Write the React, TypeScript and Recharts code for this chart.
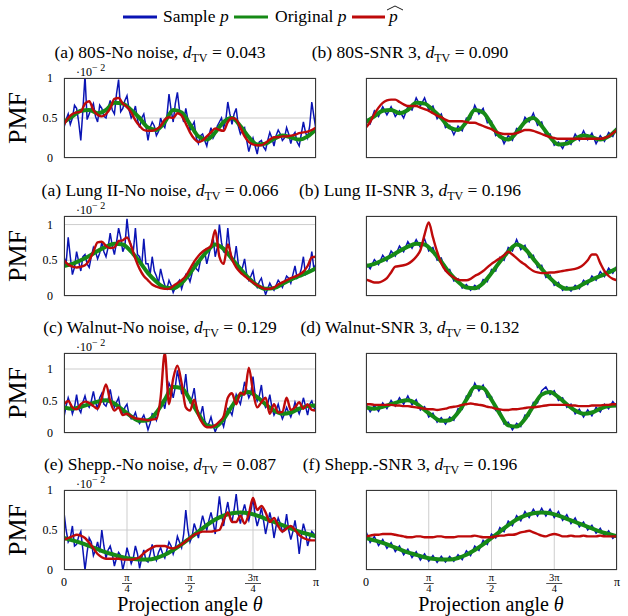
import React from "react";
import { LineChart, Line, XAxis, YAxis, CartesianGrid } from "recharts";

const SERIF = "'Liberation Serif', 'Times New Roman', serif";
const C_BLUE = "#0a14b4";
const C_GREEN = "#168a16";
const C_RED = "#be0a0a";

const STEP_SAMPLE_NN = 1;
const STEP_SAMPLE_SNR = 2;
const STEP_PHAT = 2;
const STEP_ORIG = 4;

// ---------- Original p (shared by both columns of a row) ----------
const ORIG_80S = [0.45,0.52,0.59,0.60,0.56,0.60,0.69,0.68,0.60,0.50,0.38,0.35,0.45,0.60,0.57,0.42,0.27,0.23,0.32,0.45,0.50,0.40,0.26,0.17,0.18,0.24,0.28,0.26,0.23,0.27,0.36];
const ORIG_LUNG = [0.42,0.45,0.50,0.56,0.63,0.69,0.73,0.72,0.62,0.48,0.32,0.20,0.12,0.11,0.18,0.32,0.48,0.62,0.72,0.66,0.52,0.38,0.25,0.15,0.10,0.11,0.17,0.23,0.28,0.33,0.39];
const ORIG_WALNUT = [0.40,0.38,0.41,0.45,0.49,0.51,0.46,0.36,0.26,0.19,0.20,0.32,0.52,0.72,0.70,0.52,0.30,0.12,0.10,0.22,0.42,0.60,0.64,0.56,0.45,0.35,0.30,0.32,0.38,0.42,0.43];
const ORIG_SHEPP = [0.40,0.37,0.34,0.30,0.26,0.22,0.19,0.16,0.14,0.13,0.13,0.15,0.19,0.25,0.32,0.40,0.48,0.56,0.63,0.68,0.71,0.72,0.71,0.68,0.64,0.60,0.56,0.52,0.48,0.45,0.42];

// ---------- Sample p, no noise (121 samples) ----------
const SAMPLE_80S_NN = [
  0.38,0.48,0.55,0.42,0.50,0.66,0.62,0.45,0.22,0.60,
  1.03,0.48,0.55,0.62,0.68,0.52,0.45,0.66,0.62,0.52,
  0.50,0.62,0.72,0.60,0.55,0.80,0.98,0.58,0.62,0.72,
  0.78,0.60,0.50,0.55,0.65,0.48,0.38,0.50,0.55,0.40,
  0.22,0.38,0.45,0.40,0.28,0.33,0.50,0.42,0.38,0.52,
  0.80,0.60,0.45,0.68,0.82,0.60,0.55,0.45,0.62,0.48,
  0.35,0.40,0.45,0.25,0.18,0.28,0.30,0.22,0.15,0.28,
  0.38,0.25,0.30,0.40,0.45,0.50,0.38,0.46,0.70,0.55,
  0.42,0.55,0.62,0.40,0.30,0.35,0.38,0.22,0.08,0.18,
  0.25,0.15,0.05,0.20,0.22,0.14,0.10,0.22,0.32,0.25,
  0.15,0.28,0.35,0.30,0.22,0.25,0.38,0.30,0.18,0.28,
  0.32,0.20,0.15,0.30,0.45,0.32,0.25,0.40,0.70,0.52,
  0.35];
const SAMPLE_LUNG_NN = [
  0.55,0.45,0.82,0.55,0.30,0.40,0.62,0.48,0.35,0.55,
  0.58,0.45,0.40,0.55,0.68,0.62,0.52,0.60,0.75,0.62,
  0.55,0.68,0.88,0.70,0.58,0.75,0.95,0.82,0.62,0.70,
  1.08,0.80,0.70,0.62,0.95,0.58,0.55,0.42,0.80,0.45,
  0.45,0.30,0.55,0.35,0.28,0.18,0.38,0.25,0.15,0.10,
  0.22,0.15,0.05,0.12,0.18,0.22,0.10,0.20,0.30,0.28,
  0.20,0.32,0.45,0.38,0.35,0.50,0.55,0.62,0.45,0.58,
  0.70,0.82,0.55,0.68,1.00,0.75,0.62,0.60,0.95,0.65,
  0.50,0.48,0.70,0.45,0.35,0.40,0.52,0.30,0.22,0.28,
  0.35,0.18,0.12,0.20,0.25,0.12,0.02,0.10,0.18,0.12,
  0.08,0.15,0.22,0.18,0.12,0.20,0.28,0.25,0.18,0.30,
  0.42,0.25,0.28,0.38,0.55,0.30,0.32,0.40,0.62,0.38,
  0.45];
const SAMPLE_WALNUT_NN = [
  0.25,0.42,0.55,0.45,0.30,0.40,0.60,0.38,0.32,0.48,
  0.58,0.45,0.40,0.50,0.65,0.48,0.38,0.55,0.62,0.45,
  0.42,0.52,0.68,0.50,0.40,0.48,0.55,0.35,0.30,0.40,
  0.45,0.28,0.22,0.25,0.32,0.20,0.15,0.22,0.28,0.18,
  0.05,0.15,0.30,0.28,0.20,0.35,0.45,0.50,0.38,0.60,
  0.78,0.70,0.55,0.72,0.98,0.80,0.62,0.65,0.92,0.58,
  0.48,0.55,0.70,0.42,0.30,0.28,0.42,0.20,0.12,0.15,
  0.25,0.12,0.02,0.10,0.15,0.20,0.10,0.25,0.38,0.35,
  0.28,0.45,0.60,0.52,0.45,0.62,0.80,0.68,0.55,0.62,
  0.88,0.60,0.50,0.58,0.75,0.48,0.40,0.45,0.60,0.40,
  0.28,0.35,0.45,0.32,0.22,0.30,0.40,0.32,0.25,0.35,
  0.48,0.38,0.30,0.40,0.55,0.42,0.28,0.45,0.50,0.40,
  0.35];
const SAMPLE_SHEPP_NN = [
  0.72,0.50,0.35,0.40,0.55,0.30,0.32,0.42,0.48,0.25,
  0.00,0.22,0.40,0.35,0.18,0.25,0.35,0.22,0.50,0.30,
  0.15,0.25,0.30,0.20,0.05,0.15,0.22,0.18,0.00,0.12,
  0.28,0.18,0.08,0.15,0.30,0.20,0.02,0.15,0.25,0.12,
  0.10,0.20,0.32,0.18,0.12,0.22,0.28,0.20,0.15,0.25,
  0.35,0.30,0.20,0.28,0.42,0.35,0.28,0.45,0.75,0.50,
  0.35,0.42,0.58,0.50,0.40,0.55,0.68,0.58,0.50,0.62,
  0.72,0.60,0.45,0.68,0.92,0.70,0.55,0.72,0.85,0.68,
  0.60,0.75,0.95,0.70,0.58,0.72,0.82,0.70,0.62,0.74,
  0.90,0.68,0.55,0.65,0.78,0.62,0.45,0.58,0.72,0.60,
  0.40,0.55,0.65,0.58,0.48,0.52,0.70,0.50,0.38,0.48,
  0.62,0.45,0.20,0.42,0.58,0.48,0.30,0.40,0.48,0.45,
  0.38];

// ---------- Sample p, SNR 3 (61 samples) ----------
const SAMPLE_80S_SNR = [0.50,0.43,0.59,0.52,0.64,0.54,0.64,0.52,0.59,0.50,0.64,0.60,0.75,0.65,0.75,0.60,0.65,0.49,0.55,0.38,0.41,0.29,0.40,0.34,0.50,0.49,0.66,0.55,0.62,0.44,0.46,0.28,0.31,0.18,0.28,0.22,0.37,0.35,0.51,0.45,0.56,0.41,0.45,0.28,0.30,0.16,0.20,0.12,0.23,0.17,0.30,0.22,0.34,0.23,0.31,0.18,0.28,0.21,0.32,0.27,0.39];
const SAMPLE_LUNG_SNR = [0.46,0.38,0.51,0.44,0.57,0.49,0.63,0.56,0.70,0.62,0.76,0.67,0.79,0.68,0.80,0.63,0.68,0.50,0.53,0.35,0.37,0.21,0.24,0.11,0.16,0.08,0.15,0.10,0.23,0.20,0.37,0.35,0.54,0.50,0.68,0.63,0.79,0.65,0.71,0.54,0.57,0.40,0.43,0.26,0.29,0.15,0.19,0.08,0.13,0.07,0.15,0.10,0.22,0.16,0.28,0.22,0.34,0.27,0.39,0.32,0.42];
const SAMPLE_WALNUT_SNR = [0.45,0.33,0.43,0.34,0.47,0.38,0.51,0.42,0.55,0.45,0.58,0.44,0.52,0.36,0.41,0.25,0.31,0.17,0.24,0.14,0.25,0.20,0.38,0.37,0.58,0.58,0.78,0.66,0.75,0.56,0.57,0.35,0.35,0.14,0.17,0.05,0.15,0.10,0.28,0.27,0.48,0.47,0.66,0.72,0.60,0.66,0.51,0.55,0.40,0.45,0.30,0.37,0.25,0.36,0.27,0.40,0.33,0.45,0.38,0.49,0.41];
const SAMPLE_SHEPP_SNR = [0.48,0.345,0.42,0.305,0.38,0.27,0.34,0.23,0.30,0.19,0.26,0.155,0.23,0.125,0.20,0.11,0.18,0.095,0.17,0.10,0.17,0.11,0.19,0.13,0.24,0.18,0.30,0.245,0.37,0.32,0.45,0.40,0.53,0.48,0.61,0.555,0.68,0.615,0.73,0.655,0.76,0.675,0.77,0.675,0.76,0.655,0.73,0.62,0.69,0.58,0.65,0.54,0.60,0.50,0.56,0.46,0.52,0.425,0.49,0.395,0.44];

// ---------- p-hat (61 samples) ----------
const PHAT_80S_NN = [0.42,0.50,0.55,0.57,0.58,0.68,0.71,0.60,0.54,0.52,0.55,0.62,0.74,0.75,0.68,0.64,0.57,0.47,0.40,0.35,0.34,0.34,0.36,0.40,0.48,0.51,0.50,0.56,0.53,0.43,0.32,0.24,0.20,0.22,0.27,0.32,0.37,0.35,0.34,0.45,0.50,0.48,0.38,0.27,0.20,0.17,0.16,0.16,0.19,0.23,0.26,0.26,0.27,0.27,0.28,0.29,0.31,0.32,0.33,0.35,0.38];
const PHAT_80S_SNR = [0.38,0.45,0.55,0.63,0.69,0.72,0.73,0.73,0.70,0.67,0.65,0.65,0.65,0.63,0.61,0.59,0.56,0.53,0.51,0.48,0.46,0.46,0.46,0.46,0.45,0.44,0.44,0.42,0.40,0.38,0.36,0.33,0.31,0.30,0.30,0.30,0.31,0.33,0.35,0.35,0.34,0.32,0.30,0.28,0.26,0.25,0.24,0.24,0.24,0.24,0.24,0.24,0.24,0.24,0.24,0.24,0.24,0.25,0.27,0.31,0.35];
const PHAT_LUNG_NN = [0.50,0.44,0.41,0.40,0.41,0.43,0.50,0.62,0.75,0.76,0.70,0.67,0.68,0.77,0.78,0.82,0.70,0.52,0.38,0.28,0.22,0.16,0.13,0.11,0.10,0.10,0.14,0.18,0.22,0.28,0.38,0.48,0.56,0.62,0.66,0.70,0.92,0.55,0.45,0.72,0.52,0.40,0.33,0.28,0.23,0.19,0.15,0.12,0.10,0.10,0.12,0.16,0.19,0.22,0.25,0.27,0.30,0.34,0.42,0.54,0.55];
const PHAT_LUNG_SNR = [0.23,0.21,0.19,0.19,0.21,0.25,0.33,0.41,0.42,0.43,0.45,0.49,0.55,0.64,0.86,1.03,0.82,0.62,0.46,0.36,0.30,0.26,0.23,0.22,0.22,0.24,0.28,0.31,0.35,0.40,0.45,0.49,0.53,0.57,0.62,0.58,0.53,0.48,0.44,0.39,0.35,0.33,0.32,0.32,0.33,0.33,0.34,0.35,0.36,0.37,0.38,0.40,0.44,0.50,0.58,0.58,0.46,0.35,0.28,0.24,0.22];
const PHAT_WALNUT_NN = [0.45,0.50,0.40,0.37,0.45,0.49,0.47,0.42,0.38,0.55,0.76,0.50,0.35,0.40,0.28,0.30,0.26,0.23,0.22,0.21,0.20,0.21,0.22,0.55,1.25,0.45,0.85,1.05,0.78,0.40,0.35,0.52,0.28,0.15,0.09,0.09,0.12,0.18,0.26,0.55,0.62,0.45,0.63,0.60,1.02,0.65,0.40,0.48,0.55,0.30,0.45,0.32,0.33,0.55,0.36,0.40,0.48,0.38,0.45,0.36,0.35];
const PHAT_WALNUT_SNR = [0.45,0.45,0.44,0.44,0.44,0.44,0.44,0.43,0.43,0.42,0.42,0.41,0.40,0.39,0.38,0.37,0.37,0.36,0.37,0.38,0.40,0.41,0.42,0.44,0.45,0.46,0.45,0.44,0.43,0.41,0.40,0.38,0.37,0.36,0.36,0.37,0.37,0.38,0.39,0.40,0.40,0.41,0.42,0.43,0.44,0.44,0.44,0.44,0.44,0.43,0.43,0.42,0.42,0.42,0.43,0.43,0.43,0.44,0.44,0.45,0.45];
const PHAT_SHEPP_NN = [0.38,0.40,0.42,0.44,0.43,0.40,0.34,0.27,0.20,0.16,0.14,0.14,0.14,0.14,0.13,0.13,0.13,0.14,0.16,0.21,0.25,0.28,0.30,0.30,0.30,0.28,0.27,0.29,0.32,0.36,0.40,0.44,0.46,0.48,0.48,0.48,0.49,0.50,0.62,0.72,0.60,0.60,0.68,0.58,0.70,0.90,0.75,0.80,0.72,0.60,0.65,0.55,0.48,0.52,0.55,0.50,0.44,0.40,0.38,0.37,0.37];
const PHAT_SHEPP_SNR = [0.42,0.43,0.44,0.44,0.45,0.45,0.45,0.44,0.43,0.42,0.41,0.41,0.42,0.42,0.41,0.41,0.41,0.42,0.42,0.41,0.41,0.41,0.42,0.42,0.42,0.42,0.43,0.42,0.41,0.41,0.41,0.42,0.43,0.43,0.44,0.44,0.45,0.47,0.48,0.49,0.47,0.45,0.43,0.42,0.44,0.45,0.44,0.42,0.42,0.43,0.42,0.42,0.43,0.42,0.42,0.42,0.43,0.42,0.42,0.42,0.42];

// ---------- labels ----------
const TITLES_LEFT = ["(a) 80S-No noise, ", "(a) Lung II-No noise, ", "(c) Walnut-No noise, ", "(e) Shepp.-No noise, "];
const TITLES_RIGHT = ["(b) 80S-SNR 3, ", "(b) Lung II-SNR 3, ", "(d) Walnut-SNR 3, ", "(f) Shepp.-SNR 3, "];
const DTV_LEFT = ["0.043", "0.066", "0.129", "0.087"];
const DTV_RIGHT = ["0.090", "0.196", "0.132", "0.196"];
const Y_TICKS = [0, 0.5, 1];
const Y_TICK_LABELS = ["0", "0.5", "1"];
const Y_MAX = [1.0, 1.12, 1.25, 1.0];
const GRID_TICKS = [50, 100];
const ANGLE_TICKS = [0, 30, 60, 90, 120];
const ANGLE_NUM = ["0", "\u03c0", "\u03c0", "3\u03c0", "\u03c0"];
const ANGLE_DEN = ["", "4", "2", "4", ""];

const ORIGINAL = [ORIG_80S, ORIG_LUNG, ORIG_WALNUT, ORIG_SHEPP];
const SAMPLE_LEFT = [SAMPLE_80S_NN, SAMPLE_LUNG_NN, SAMPLE_WALNUT_NN, SAMPLE_SHEPP_NN];
const SAMPLE_RIGHT = [SAMPLE_80S_SNR, SAMPLE_LUNG_SNR, SAMPLE_WALNUT_SNR, SAMPLE_SHEPP_SNR];
const PHAT_LEFT = [PHAT_80S_NN, PHAT_LUNG_NN, PHAT_WALNUT_NN, PHAT_SHEPP_NN];
const PHAT_RIGHT = [PHAT_80S_SNR, PHAT_LUNG_SNR, PHAT_WALNUT_SNR, PHAT_SHEPP_SNR];

// ---------- layout ----------
const ROW_TOPS = [78, 216, 353, 490];
const PLOT_H = 80;
const COL_LEFT = [64, 366];
const COL_W = [252, 251];
const AXW = 50;
const M_TOP = 10;

const toPoints = (vals: number[], step: number) => vals.map((v, i) => ({ x: i * step, v }));

function YTick(props: any) {
  const { x, y, payload } = props;
  const i = Y_TICKS.indexOf(payload.value);
  return (
    <text x={x - 14} y={y + 4} textAnchor="middle" fontSize={12} fontFamily={SERIF} fill="#000">
      {Y_TICK_LABELS[i]}
    </text>
  );
}

function AngleTick(props: any) {
  const { x, y, payload } = props;
  const i = ANGLE_TICKS.indexOf(payload.value);
  const num = ANGLE_NUM[i];
  const den = ANGLE_DEN[i];
  if (!den) {
    return (
      <text x={x} y={y + 16} textAnchor="middle" fontSize={12} fontFamily={SERIF} fill="#000">
        {num}
      </text>
    );
  }
  const half = num.length > 1 ? 8 : 5;
  return (
    <g>
      <text x={x} y={y + 11} textAnchor="middle" fontSize={10.5} fontFamily={SERIF} fill="#000">
        {num}
      </text>
      <line x1={x - half} x2={x + half} y1={y + 13.5} y2={y + 13.5} stroke="#000" strokeWidth={0.7} />
      <text x={x} y={y + 22} textAnchor="middle" fontSize={10.5} fontFamily={SERIF} fill="#000">
        {den}
      </text>
    </g>
  );
}

function Panel({ row, col }: { row: number; col: number }) {
  const plotLeft = COL_LEFT[col];
  const plotW = COL_W[col];
  const top = ROW_TOPS[row];
  const bottom = row === 3;
  const xH = bottom ? 30 : 1;
  const mBottom = bottom ? 0 : 8;
  const width = AXW + plotW + 8;
  const height = M_TOP + PLOT_H + xH + mBottom;
  const blue =
    col === 0 ? toPoints(SAMPLE_LEFT[row], STEP_SAMPLE_NN) : toPoints(SAMPLE_RIGHT[row], STEP_SAMPLE_SNR);
  const green = toPoints(ORIGINAL[row], STEP_ORIG);
  const red = toPoints(col === 0 ? PHAT_LEFT[row] : PHAT_RIGHT[row], STEP_PHAT);
  return (
    <div style={{ position: "absolute", left: plotLeft - AXW, top: top - M_TOP, width, height }}>
      <LineChart width={width} height={height} margin={{ top: M_TOP, right: 8, bottom: mBottom, left: 0 }}>
        <CartesianGrid stroke="#cdcdcd" strokeWidth={1} />
        <XAxis
          type="number"
          dataKey="x"
          domain={[0, 120]}
          ticks={bottom ? ANGLE_TICKS : GRID_TICKS}
          interval={0}
          height={xH}
          tick={bottom ? <AngleTick /> : false}
          tickLine={false}
          axisLine={false}
          tickSize={0}
          tickMargin={0}
          allowDataOverflow
        />
        <YAxis
          type="number"
          domain={[0, Y_MAX[row]]}
          ticks={Y_TICKS}
          interval={0}
          width={AXW}
          tick={col === 0 ? <YTick /> : false}
          tickLine={false}
          axisLine={false}
          tickSize={0}
          tickMargin={0}
          allowDataOverflow
        />
        <Line data={blue} dataKey="v" type="linear" stroke={C_BLUE} strokeWidth={1.5} dot={false} isAnimationActive={false} />
        <Line data={green} dataKey="v" type="monotone" stroke={C_GREEN} strokeWidth={4} dot={false} isAnimationActive={false} strokeLinejoin="round" />
        <Line data={red} dataKey="v" type="monotone" stroke={C_RED} strokeWidth={2.4} dot={false} isAnimationActive={false} strokeLinejoin="round" />
      </LineChart>
      <div
        style={{
          position: "absolute",
          left: AXW,
          top: M_TOP,
          width: plotW,
          height: PLOT_H,
          border: "1px solid #383838",
          boxSizing: "border-box",
          pointerEvents: "none",
        }}
      />
    </div>
  );
}

function Title({ x, y, text, dtv }: { x: number; y: number; text: string; dtv: string }) {
  return (
    <text x={x} y={y} textAnchor="middle" fontSize={17.5} fontFamily={SERIF} fill="#000">
      {text}
      <tspan fontStyle="italic">d</tspan>
      <tspan fontSize={12} dy={4}>TV</tspan>
      <tspan dy={-4}>{" = " + dtv}</tspan>
    </text>
  );
}

export default function App() {
  const panels = [];
  for (let r = 0; r < 4; r++) {
    for (let c = 0; c < 2; c++) {
      panels.push(<Panel key={r + "-" + c} row={r} col={c} />);
    }
  }
  return (
    <div style={{ position: "fixed", left: 0, top: 0, width: 628, height: 616, background: "#fff", overflow: "hidden" }}>
      {panels}
      <svg width={628} height={616} style={{ position: "absolute", left: 0, top: 0, pointerEvents: "none" }}>
        <line x1={123} x2={157} y1={17} y2={17} stroke={C_BLUE} strokeWidth={3} />
        <text x={163} y={22} fontSize={17.5} fontFamily={SERIF} fill="#000">
          Sample <tspan fontStyle="italic">p</tspan>
        </text>
        <line x1={234} x2={268} y1={17} y2={17} stroke={C_GREEN} strokeWidth={3} />
        <text x={275} y={22} fontSize={17.5} fontFamily={SERIF} fill="#000">
          Original <tspan fontStyle="italic">p</tspan>
        </text>
        <line x1={352} x2={385} y1={17} y2={17} stroke={C_RED} strokeWidth={3} />
        <text x={389} y={22} fontSize={17.5} fontFamily={SERIF} fontStyle="italic" fill="#000">p</text>
        <polyline points="387,10 395,6 403,10" fill="none" stroke="#000" strokeWidth={0.9} />

        {ROW_TOPS.map((t, r) => (
          <g key={"row" + r}>
            <Title x={160} y={t - 20} text={TITLES_LEFT[r]} dtv={DTV_LEFT[r]} />
            <Title x={410} y={t - 20} text={TITLES_RIGHT[r]} dtv={DTV_RIGHT[r]} />
            <text x={76} y={t - 2} fontSize={12} fontFamily={SERIF} fill="#000">
              {"\u00b710"}
              <tspan fontSize={10} dy={-5}>{"\u2212 2"}</tspan>
            </text>
            <text
              transform={`translate(26, ${t + PLOT_H / 2}) rotate(-90)`}
              textAnchor="middle"
              fontSize={26}
              fontFamily={SERIF}
              fill="#000"
            >
              PMF
            </text>
          </g>
        ))}

        <text x={190} y={611} textAnchor="middle" fontSize={20} fontFamily={SERIF} fill="#000">
          Projection angle <tspan fontStyle="italic">{"\u03b8"}</tspan>
        </text>
        <text x={491} y={611} textAnchor="middle" fontSize={20} fontFamily={SERIF} fill="#000">
          Projection angle <tspan fontStyle="italic">{"\u03b8"}</tspan>
        </text>
      </svg>
    </div>
  );
}
